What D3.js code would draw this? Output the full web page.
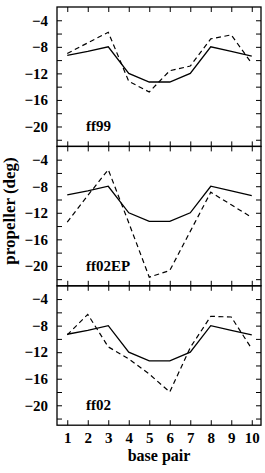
<!DOCTYPE html>
<html>
<head>
<meta charset="utf-8">
<script src="https://cdn.jsdelivr.net/npm/d3@7"></script>
<style>
  body { margin: 0; background: #fff; }
  text { font-family: "Liberation Serif", "Times New Roman", serif; font-weight: bold; fill: #000; }
</style>
</head>
<body>
<svg id="chart" width="265" height="473"></svg>
<script>
// base pair positions
var basePairs = [1, 2, 3, 4, 5, 6, 7, 8, 9, 10];
// solid reference curve (same in every panel)
var reference = [-9.3, -8.7, -8.0, -12.0, -13.3, -13.3, -12.0, -8.0, -8.7, -9.4];
// dashed curves, one per panel
var ff99   = [-9.0, -7.4, -5.8, -13.2, -14.8, -11.6, -10.9, -6.8, -6.2, -10.5];
var ff02EP = [-13.4, -9.4, -5.5, -13.5, -21.7, -20.7, -14.8, -8.9, -10.8, -12.7];
var ff02   = [-9.4, -6.3, -11.2, -13.0, -15.3, -18.0, -11.3, -6.6, -6.7, -11.5];
var panelNames = ["ff99", "ff02EP", "ff02"];
var yTicks = [-22, -20, -18, -16, -14, -12, -10, -8, -6, -4];

var panels = [
    { name: panelNames[0], dashed: ff99 },
    { name: panelNames[1], dashed: ff02EP },
    { name: panelNames[2], dashed: ff02 }
];

var left = 57, right = 261, top0 = 7, panelH = 139.4;

var svg = d3.select("#chart");

var x = d3.scaleLinear()
    .domain([0.5, 10.45])
    .range([left, right]);

var line = d3.line()
    .x(function(d) { return x(d.x); })
    .y(function(d) { return d.yScale(d.y); });

panels.forEach(function(p, i) {
    var y0 = top0 + i * panelH;
    var y = d3.scaleLinear()
        .domain([-23, -2])
        .range([y0 + panelH, y0]);

    var g = svg.append("g");

    // left axis with labels on the multiples of 4
    g.append("g")
        .attr("transform", "translate(" + left + ",0)")
        .call(d3.axisLeft(y).tickValues(yTicks).tickSizeInner(-5).tickSizeOuter(0).tickPadding(9)
            .tickFormat(function(d) { return d % 4 == 0 ? d3.format("d")(d) : ""; }))
        .call(function(a) {
            a.select(".domain").remove();
            a.selectAll("text").style("font-size", "15px").style("font-family", null);
        });

    // right axis, ticks only
    g.append("g")
        .attr("transform", "translate(" + right + ",0)")
        .call(d3.axisRight(y).tickValues(yTicks).tickSizeInner(-5).tickSizeOuter(0).tickFormat(""))
        .call(function(a) { a.select(".domain").remove(); });

    // top and bottom ticks
    g.append("g")
        .attr("transform", "translate(0," + y0 + ")")
        .call(d3.axisTop(x).tickValues(basePairs).tickSizeInner(-5).tickSizeOuter(0).tickFormat(""))
        .call(function(a) { a.select(".domain").remove(); });

    g.append("g")
        .attr("transform", "translate(0," + (y0 + panelH) + ")")
        .call(d3.axisBottom(x).tickValues(basePairs).tickSizeInner(-5).tickSizeOuter(0).tickPadding(7)
            .tickFormat(i == 2 ? d3.format("d") : ""))
        .call(function(a) {
            a.select(".domain").remove();
            a.selectAll("text").style("font-size", "15px").style("font-family", null);
        });

    // frame
    g.append("rect")
        .attr("x", left)
        .attr("y", y0)
        .attr("width", right - left)
        .attr("height", panelH)
        .attr("fill", "none")
        .attr("stroke", "#000")
        .attr("stroke-width", 1.3);

    var solidData = basePairs.map(function(b, k) { return { x: b, y: reference[k], yScale: y }; });
    var dashData = basePairs.map(function(b, k) { return { x: b, y: p.dashed[k], yScale: y }; });

    g.append("path")
        .datum(solidData)
        .attr("d", line)
        .attr("fill", "none")
        .attr("stroke", "#000")
        .attr("stroke-width", 1.3);

    g.append("path")
        .datum(dashData)
        .attr("d", line)
        .attr("fill", "none")
        .attr("stroke", "#000")
        .attr("stroke-width", 1.2)
        .attr("stroke-dasharray", "5,3.5");

    g.append("text")
        .attr("x", 86)
        .attr("y", y(-20) + 5)
        .style("font-size", "15px")
        .text(p.name);
});

// axis titles
svg.append("text")
    .attr("transform", "translate(15,211) rotate(-90)")
    .attr("text-anchor", "middle")
    .style("font-size", "17px")
    .text("propeller (deg)");

svg.append("text")
    .attr("x", (left + right) / 2)
    .attr("y", 461)
    .attr("text-anchor", "middle")
    .style("font-size", "16px")
    .text("base pair");
</script>
</body>
</html>
